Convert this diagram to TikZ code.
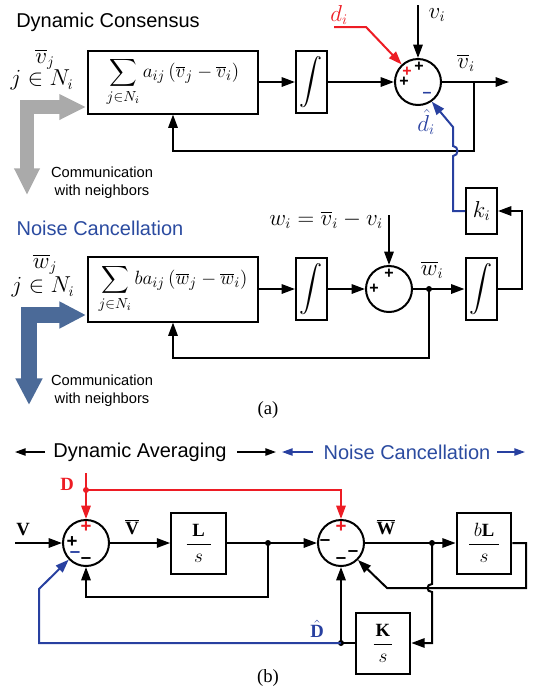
\documentclass[tikz,border=0pt]{standalone}
\usepackage{amsmath}
\usepackage{fontspec}
\setmainfont{Liberation Serif}
\setsansfont{Liberation Sans}
\usetikzlibrary{arrows.meta}
\definecolor{myred}{RGB}{237,28,36}
\definecolor{myblue}{RGB}{40,64,160}
\definecolor{txtblue}{RGB}{43,75,160}
\definecolor{steel}{RGB}{75,106,152}
\definecolor{lgray}{RGB}{170,170,170}
\begin{document}
\begin{tikzpicture}[x=0.75pt,y=-0.75pt,
  ln/.style={line width=1.5pt},
  arr/.style={line width=1.5pt,-{Triangle[length=10pt,width=7pt]}},
  harr/.style={line width=1.1pt,-{Triangle[length=8pt,width=5.5pt]}},
  blk/.style={draw,line width=1.5pt,inner sep=0pt},
  sumc/.style={draw,circle,line width=1.5pt,minimum size=34.5pt,inner sep=0pt},
  mth/.style={inner sep=0pt,font=\fontsize{16}{19}\selectfont},
  sgn/.style={inner sep=0pt,font=\sffamily\bfseries\fontsize{12}{12}\selectfont},
  sgnb/.style={inner sep=0pt,font=\sffamily\bfseries\fontsize{14}{14}\selectfont},
  ttl/.style={inner sep=0pt,font=\sffamily\fontsize{15}{18}\selectfont},
  com/.style={inner sep=0pt,align=center,font=\sffamily\fontsize{11}{13.5}\selectfont},
  captxt/.style={inner sep=0pt,font=\fontsize{14}{16}\selectfont},
  bl/.style={inner sep=0pt,font=\fontsize{14}{16}\selectfont},
  dotnode/.style={circle,fill,inner sep=0pt,minimum size=4.5pt},
  intg/.style={blk,minimum width=23.25pt,minimum height=46.5pt,font=\fontsize{16}{19}\selectfont},
  fracbox/.style={blk,minimum width=41pt,minimum height=45.75pt,font=\fontsize{14}{16}\selectfont},
  sumbox/.style={blk,minimum width=127.5pt,font=\fontsize{15.5}{18}\selectfont}
]
\useasboundingbox (0,0) rectangle (536,694);
% ================= (a) top =================
\node[ttl] (tdc) at (108,22) {Dynamic Consensus};
\node[mth] (vj) at (45,59) {$\overline{v}_j$};
\node[mth] (jn1) at (42,80) {$j\in N_i$};
\node[sumbox,minimum height=47.25pt] (sumA) at (173,82)
  {$\displaystyle\sum_{j\in N_i} a_{ij}\left(\overline{v}_j-\overline{v}_i\right)$};
\node[intg] (intA) at (311.5,82) {$\displaystyle\int$};
\node[sumc] (cA) at (418,82) {};
\coordinate (outA) at (509,82);
\coordinate (brA) at (474,82);
\coordinate (fbA) at (474,151);
\coordinate (viT) at (418,5);
\node[mth] (vi) at (437,15) {$v_i$};
\node[mth] (vbi) at (466,63) {$\overline{v}_i$};
\node[mth,text=myred] (di) at (339,15) {$d_i$};
\coordinate (d1) at (334,27);
\coordinate (d2) at (366,27);
\node[mth,text=myblue] (dhi) at (426,122) {$\hat{d}_i$};
\node[sgn,text=myred] (pA1) at (407,72) {+};
\node[sgn] (pA2) at (419,67) {+};
\node[sgn] (pA3) at (404,82) {+};
\node[sgn,text=myblue] (mA1) at (427,95) {--};
\node[blk,minimum width=23.25pt,minimum height=34.5pt,font=\fontsize{16}{19}\selectfont] (kA) at (481.5,211) {$k_i$};

\draw[arr] (sumA.east) -- (intA.west);
\draw[arr] (intA.east) -- (cA.west);
\draw[arr] (cA.east) -- (outA);
\draw[arr] (brA) -- (fbA) -| (sumA.south);
\draw[arr] (viT) -- (cA.north);
\draw[arr,myred] (d1) -- (d2) -- (cA.133);
\draw[arr,myblue] (kA.west) -- (453,211) -- (453,156) .. controls (459,156) and (459,146) .. (453,146) -- (453,127) -- (cA.-55);

\draw[line width=10pt,lgray,{Triangle[length=20pt,width=18pt]}-{Triangle[length=20pt,width=18pt]}] (86,107) -- (27,107) -- (27,195);
\node[com] (comA) at (102,183) {Communication\\with neighbors};

% ================= (a) bottom =================
\node[ttl,text=txtblue] (tnc) at (100,228) {Noise Cancellation};
\node[mth] (wj) at (45,264) {$\overline{w}_j$};
\node[mth] (jn2) at (43,287) {$j\in N_i$};
\node[sumbox,minimum height=48.75pt] (sumB) at (173,289)
  {$\displaystyle\sum_{j\in N_i} ba_{ij}\left(\overline{w}_j-\overline{w}_i\right)$};
\node[intg] (intB) at (311.5,289) {$\displaystyle\int$};
\node[sumc] (cB) at (389,289) {};
\node[mth,anchor=east] (wi) at (383,220) {$w_i=\overline{v}_i-v_i$};
\coordinate (wiT) at (389,215);
\node[sgn] (pB1) at (389,274) {+};
\node[sgn] (pB2) at (374,289) {+};
\node[dotnode] (dotB) at (429,289) {};
\node[mth] (wbi) at (432,270) {$\overline{w}_i$};
\node[intg] (intB2) at (481,289) {$\displaystyle\int$};
\coordinate (rB) at (522,289);
\coordinate (rT) at (522,211);
\coordinate (fbB) at (429,358);

\draw[arr] (sumB.east) -- (intB.west);
\draw[arr] (intB.east) -- (cB.west);
\draw[arr] (wiT) -- (cB.north);
\draw[arr] (cB.east) -- (intB2.west);
\draw[arr] (dotB.center) -- (fbB) -| (sumB.south);
\draw[arr] (intB2.east) -- (rB) -- (rT) -- (kA.east);

\draw[line width=12pt,steel,{Triangle[length=20pt,width=19pt]}-{Triangle[length=20pt,width=19pt]}] (86,315) -- (29,315) -- (29,405);
\node[com] (comB) at (102,391) {Communication\\with neighbors};

\node[captxt] (capa) at (268,410) {(a)};

% ================= (b) =================
\coordinate (h1) at (45,452);
\coordinate (h1e) at (15,452);
\node[ttl] (hda) at (140,452) {Dynamic Averaging};
\coordinate (h2) at (237,452);
\coordinate (h2e) at (276,452);
\coordinate (h3) at (313,452);
\coordinate (h3e) at (282,452);
\node[ttl,text=txtblue] (hnc) at (407,452) {Noise Cancellation};
\coordinate (h4) at (497,452);
\coordinate (h4e) at (525,452);
\draw[harr] (h1) -- (h1e);
\draw[harr] (h2) -- (h2e);
\draw[harr,myblue] (h3) -- (h3e);
\draw[harr,myblue] (h4) -- (h4e);

\node[sumc] (cb1) at (86,543) {};
\node[sumc] (cb2) at (341,543) {};
\node[fracbox] (Lb) at (198.5,543) {$\displaystyle\frac{\textbf{L}}{\makebox[18pt]{$s$}}$};
\node[fracbox] (bLb) at (484,543) {$\displaystyle\frac{b\textbf{L}}{\makebox[22pt]{$s$}}$};
\node[fracbox] (Kb) at (383,643) {$\displaystyle\frac{\textbf{K}}{\makebox[14pt]{$s$}}$};

\node[bl] (Vl) at (23,530) {\textbf{V}};
\coordinate (Vin) at (15,543);
\node[bl,text=myred] (Dl) at (67,484) {\textbf{D}};
\coordinate (Dtop) at (86,473);
\node[dotnode,fill=myred] (dotR) at (86,490) {};
\node[bl] (Vbl) at (132,527) {$\overline{\mbox{\textbf{V}}}$};
\node[bl] (Wbl) at (386,527) {$\overline{\mbox{\textbf{W}}}$};
\node[bl,text=myblue] (Dhl) at (317,629) {$\hat{\mbox{\textbf{D}}}$};
\node[dotnode] (dot1) at (268,543) {};
\node[dotnode] (dot2) at (432,543) {};
\node[dotnode] (dotD) at (341,643) {};

\node[sgnb,text=myred] (pb1) at (86,527) {+};
\node[sgnb] (pb2) at (72,542) {+};
\node[sgnb,text=myblue] (mb1) at (75,555) {--};
\node[sgnb] (mb2) at (86,561) {--};
\node[sgnb,text=myred] (pb3) at (341,527) {+};
\node[sgnb] (mb3) at (325,543) {--};
\node[sgnb] (mb4) at (341,561) {--};
\node[sgnb] (mb5) at (353,554) {--};

\draw[arr] (Vin) -- (cb1.west);
\draw[arr,myred] (Dtop) -- (cb1.north);
\draw[arr,myred] (dotR.center) -| (cb2.north);
\draw[arr] (cb1.east) -- (Lb.west);
\draw[ln] (Lb.east) -- (dot1.center);
\draw[arr] (dot1.center) -- (cb2.west);
\draw[arr] (dot1.center) -- (268,597) -| (cb1.south);
\draw[arr] (cb2.east) -- (bLb.west);
\draw[arr] (bLb.east) -- (526,543) -- (526,588) -- (387,588) -- (cb2.-45);
\draw[arr] (dot2.center) -- (432,584) .. controls (426,584) and (426,592) .. (432,592) -- (432,643) -- (Kb.east);
\draw[ln] (Kb.west) -- (dotD.center);
\draw[arr] (dotD.center) -- (cb2.south);
\draw[arr,myblue] (dotD.center) -- (39,643) -- (39,589) -- (cb1.-136);

\node[captxt] (capb) at (268,678) {(b)};
\end{tikzpicture}
\end{document}
